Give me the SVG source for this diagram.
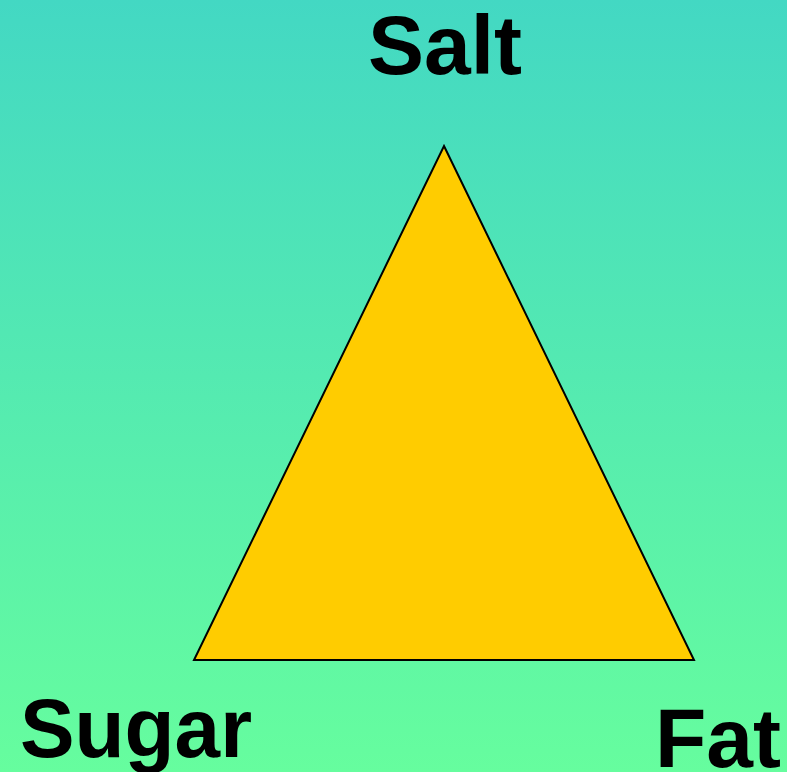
<svg xmlns="http://www.w3.org/2000/svg" width="787" height="772" viewBox="0 0 787 772">
  <defs>
    <linearGradient id="bg" x1="0" y1="0" x2="0" y2="1">
      <stop offset="0" stop-color="#43D8C3"/>
      <stop offset="1" stop-color="#66FD9E"/>
    </linearGradient>
  </defs>
  <style>
    .lbl { font-family: "Liberation Sans", Arial, sans-serif; font-weight: bold; font-size: 84px; fill: #000000; }
    .tri { fill: #FFCC00; stroke: #000000; stroke-width: 2; stroke-linejoin: miter; }
  </style>
  <rect x="0" y="0" width="787" height="772" fill="url(#bg)"/>
  <g id="triangle">
    <polygon class="tri" points="444,146 694,660 194,660"/>
  </g>
  <g id="salt">
    <text class="lbl" x="368" y="74">Salt</text>
  </g>
  <g id="sugar">
    <text class="lbl" x="20" y="757" textLength="232" lengthAdjust="spacingAndGlyphs">Sugar</text>
  </g>
  <g id="fat">
    <text class="lbl" x="655" y="767">Fat</text>
  </g>
</svg>
